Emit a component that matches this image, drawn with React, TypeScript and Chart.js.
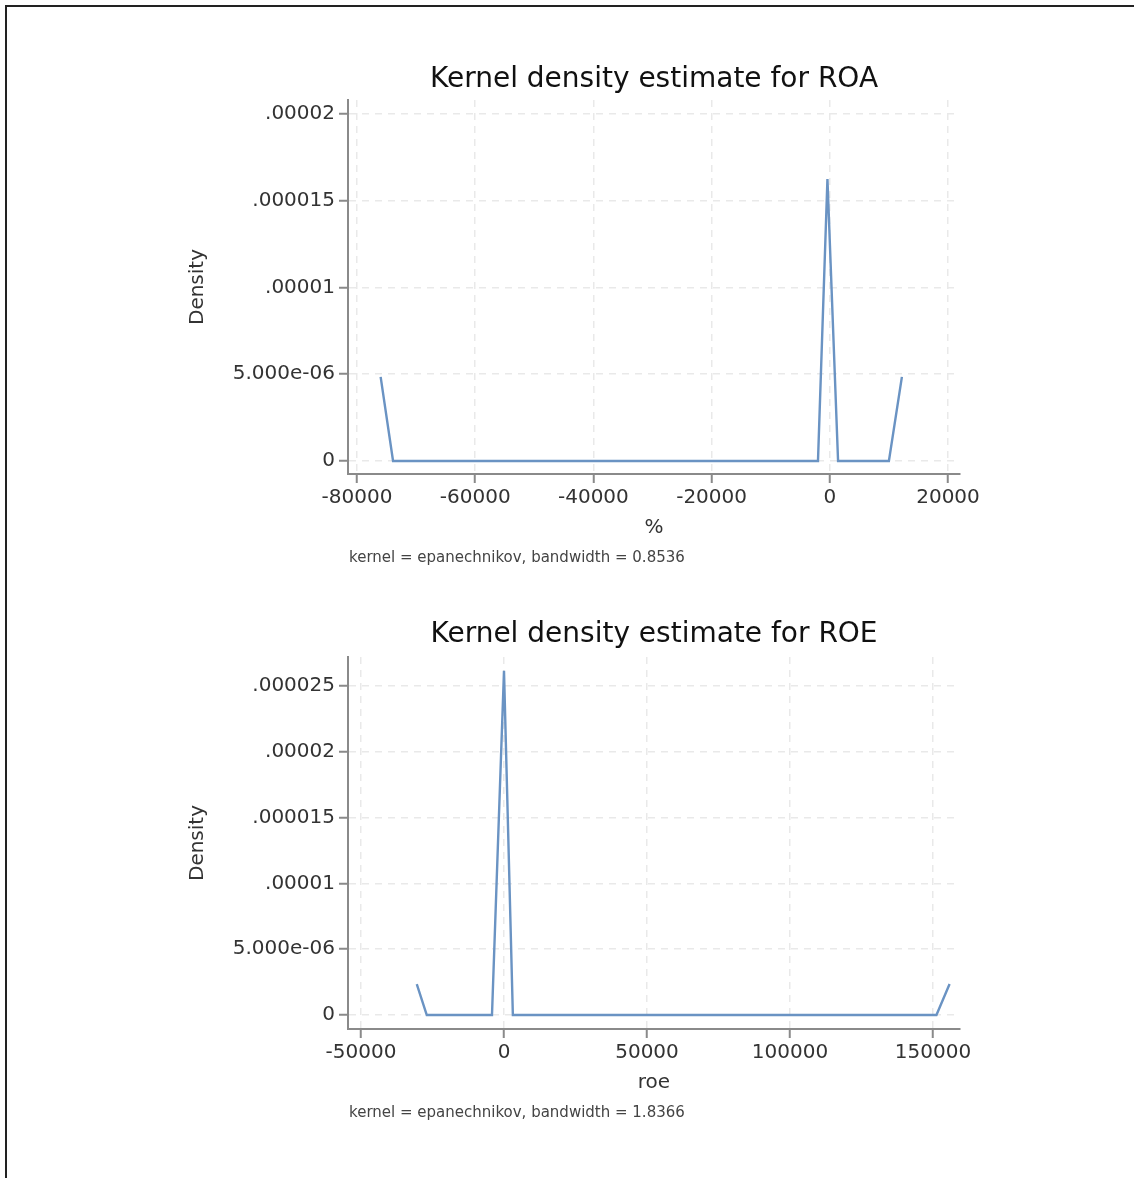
import React, { useEffect, useRef } from "react";
import { Chart, registerables } from "chart.js";

Chart.register(...registerables);

// ---- Data: Kernel density estimate for ROA ----
const ROA_X = [-76000, -73900, -2000, -400, 1400, 10000, 12200];
const ROA_Y = [4.85e-6, 0, 0, 1.625e-5, 0, 0, 4.85e-6];
const ROA_X_TICKS = [-80000, -60000, -40000, -20000, 0, 20000];
const ROA_Y_TICKS = [0, 5e-6, 1e-5, 1.5e-5, 2e-5];
const ROA_Y_LABELS = ["0", "5.000e-06", ".00001", ".000015", ".00002"];

// ---- Data: Kernel density estimate for ROE ----
const ROE_X = [-30500, -27000, -4200, 0, 3100, 151200, 155800];
const ROE_Y = [2.35e-6, 0, 0, 2.615e-5, 0, 0, 2.35e-6];
const ROE_X_TICKS = [-50000, 0, 50000, 100000, 150000];
const ROE_Y_TICKS = [0, 5e-6, 1e-5, 1.5e-5, 2e-5, 2.5e-5];
const ROE_Y_LABELS = ["0", "5.000e-06", ".00001", ".000015", ".00002", ".000025"];

const FONT = "'DejaVu Sans', 'Liberation Sans', Arial, sans-serif";
const LINE_COLOR = "#6a93c3";
const AXIS_COLOR = "#8a8a8a";
const GRID_COLOR = "#e9e9e9";
const TEXT_COLOR = "#333333";

const notePlugin = {
  id: "noteText",
  afterDraw(chart: any, _args: any, opts: any) {
    if (!opts || !opts.text) return;
    const ctx = chart.ctx;
    ctx.save();
    ctx.font = `15px ${FONT}`;
    ctx.fillStyle = "#444444";
    ctx.textAlign = "left";
    ctx.textBaseline = "middle";
    ctx.fillText(opts.text, chart.chartArea.left + 1, chart.chartArea.bottom + opts.dy);
    ctx.restore();
  },
};

type PanelProps = {
  top: number;
  height: number;
  title: string;
  xTitle: string;
  note: string;
  xs: number[];
  ys: number[];
  xTicks: number[];
  yTicks: number[];
  yLabels: string[];
  xMin: number;
  xMax: number;
  yMin: number;
  yMax: number;
  titlePadTop: number;
  titlePadBottom: number;
  padBottom: number;
};

function Panel(p: PanelProps) {
  const ref = useRef<HTMLCanvasElement | null>(null);
  useEffect(() => {
    if (!ref.current) return;
    const data = p.xs.map((x, i) => ({ x, y: p.ys[i] }));
    const chart = new Chart(ref.current, {
      type: "line",
      data: {
        datasets: [
          {
            data,
            borderColor: LINE_COLOR,
            borderWidth: 2.4,
            pointRadius: 0,
            tension: 0,
            fill: false,
          },
        ],
      },
      plugins: [notePlugin],
      options: {
        responsive: false,
        animation: false,
        devicePixelRatio: 1,
        layout: { padding: { left: 150, right: 174, top: 0, bottom: p.padBottom } },
        plugins: {
          legend: { display: false },
          tooltip: { enabled: false },
          title: {
            display: true,
            text: p.title,
            fullSize: false,
            color: "#111111",
            font: { family: FONT, size: 28, weight: "normal" },
            padding: { top: p.titlePadTop, bottom: p.titlePadBottom },
          },
          noteText: { text: p.note, dy: 84 },
        } as any,
        scales: {
          x: {
            type: "linear",
            min: p.xMin,
            max: p.xMax,
            afterBuildTicks: (scale: any) => {
              scale.ticks = p.xTicks.map((v) => ({ value: v }));
            },
            afterFit: (scale: any) => {
              scale.height = 66;
            },
            ticks: {
              color: TEXT_COLOR,
              font: { family: FONT, size: 20 },
              padding: 3,
              maxRotation: 0,
              autoSkip: false,
              callback: (v: any) => String(v),
            },
            grid: {
              color: GRID_COLOR,
              lineWidth: 1.5,
              tickColor: AXIS_COLOR,
              tickWidth: 2,
              tickLength: 9,
            },
            border: { display: true, color: AXIS_COLOR, width: 2, dash: [7, 6] },
            title: {
              display: true,
              text: p.xTitle,
              color: TEXT_COLOR,
              font: { family: FONT, size: 20 },
              padding: { top: 0, bottom: 0 },
            },
          },
          y: {
            type: "linear",
            min: p.yMin,
            max: p.yMax,
            afterBuildTicks: (scale: any) => {
              scale.ticks = p.yTicks.map((v) => ({ value: v }));
            },
            afterFit: (scale: any) => {
              scale.width = 198;
            },
            ticks: {
              color: TEXT_COLOR,
              font: { family: FONT, size: 20 },
              padding: 4,
              autoSkip: false,
              callback: (_v: any, i: number) => p.yLabels[i],
            },
            grid: {
              color: GRID_COLOR,
              lineWidth: 1.5,
              tickColor: AXIS_COLOR,
              tickWidth: 2,
              tickLength: 9,
            },
            border: { display: true, color: AXIS_COLOR, width: 2, dash: [7, 6] },
            title: {
              display: true,
              text: "Density",
              color: TEXT_COLOR,
              font: { family: FONT, size: 20 },
              padding: { top: 36, bottom: 0 },
            },
          },
        },
      } as any,
    });
    return () => chart.destroy();
  }, []);
  return (
    <canvas
      ref={ref}
      width={1134}
      height={p.height}
      style={{ position: "absolute", left: 0, top: p.top, width: 1134, height: p.height, display: "block" }}
    />
  );
}

export default function App() {
  return (
    <div style={{ position: "absolute", left: 0, top: 0, width: 1134, height: 1178, background: "#ffffff", overflow: "hidden" }}>
      <Panel
        top={0}
        height={590}
        title="Kernel density estimate for ROA"
        xTitle="%"
        note="kernel = epanechnikov, bandwidth = 0.8536"
        xs={ROA_X}
        ys={ROA_Y}
        xTicks={ROA_X_TICKS}
        yTicks={ROA_Y_TICKS}
        yLabels={ROA_Y_LABELS}
        xMin={-81523}
        xMax={22030}
        yMin={-0.75e-6}
        yMax={2.08e-5}
        titlePadTop={63}
        titlePadBottom={3.4}
        padBottom={50}
      />
      <Panel
        top={560}
        height={618}
        title="Kernel density estimate for ROE"
        xTitle="roe"
        note="kernel = epanechnikov, bandwidth = 1.8366"
        xs={ROE_X}
        ys={ROE_Y}
        xTicks={ROE_X_TICKS}
        yTicks={ROE_Y_TICKS}
        yLabels={ROE_Y_LABELS}
        xMin={-54545}
        xMax={159440}
        yMin={-1.064e-6}
        yMax={2.72e-5}
        titlePadTop={58}
        titlePadBottom={5.4}
        padBottom={83}
      />
      <div style={{ position: "absolute", left: 5, top: 5, width: 1129, height: 2, background: "#222222" }} />
      <div style={{ position: "absolute", left: 5, top: 5, width: 2, height: 1173, background: "#222222" }} />
    </div>
  );
}
